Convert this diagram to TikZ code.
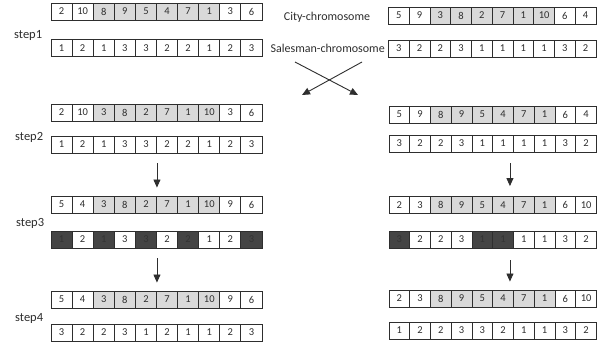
\documentclass[tikz,border=0pt]{standalone}
\usepackage{fontspec}
\setmainfont{Carlito}
\usetikzlibrary{arrows.meta}
\definecolor{inkgray}{HTML}{2E2E2E}
\definecolor{lightcell}{HTML}{D9D9D9}
\definecolor{darkcell}{HTML}{444444}
\tikzset{
  cell/.style={draw=inkgray, line width=0.9pt, inner sep=0pt, minimum height=17pt,
    text=inkgray, font=\fontsize{10.5}{10.5}\selectfont},
  cw/.style={fill=white},
  cg/.style={fill=lightcell},
  cd/.style={fill=darkcell, text=black!80},
  steplabel/.style={anchor=base west, inner sep=0pt, text=inkgray,
    font=\fontsize{12.5}{13}\selectfont},
  chromlabel/.style={inner sep=0pt, text=inkgray, font=\fontsize{12}{12}\selectfont},
  flow/.style={draw=inkgray, line width=0.9pt, -{Triangle[width=7pt,length=8pt]}},
}
% #1 row name, #2 left x, #3 cell width, #4 top y, #5 value/style list
\newcommand\chromrow[5]{%
  \foreach [count=\i] \v/\s in {#5} {
    \node[cell,\s,minimum width=#3pt] (#1-\i) at ({#2+(\i-0.5)*#3},{#4+8.5}) {\v};
  }}
\begin{document}
\begin{tikzpicture}[x=1pt,y=-1pt]
\useasboundingbox (0,0) rectangle (603,347);
\fill[white] (0,0) rectangle (603,347);

% step 1
\chromrow{L1c}{51}{21.1}{3}{2/cw,10/cw,8/cg,9/cg,5/cg,4/cg,7/cg,1/cg,3/cw,6/cw}
\chromrow{L1s}{51}{21.1}{39.5}{1/cw,2/cw,1/cw,3/cw,3/cw,2/cw,2/cw,1/cw,2/cw,3/cw}
\chromrow{R1c}{388.5}{20.75}{7}{5/cw,9/cw,3/cg,8/cg,2/cg,7/cg,1/cg,10/cg,6/cw,4/cw}
\chromrow{R1s}{388.5}{20.75}{40}{3/cw,2/cw,2/cw,3/cw,1/cw,1/cw,1/cw,1/cw,3/cw,2/cw}

% step 2
\chromrow{L2c}{51}{21.1}{104}{2/cw,10/cw,3/cg,8/cg,2/cg,7/cg,1/cg,10/cg,3/cw,6/cw}
\chromrow{L2s}{51}{21.1}{136}{1/cw,2/cw,1/cw,3/cw,3/cw,2/cw,2/cw,1/cw,2/cw,3/cw}
\chromrow{R2c}{389}{20.75}{106}{5/cw,9/cw,8/cg,9/cg,5/cg,4/cg,7/cg,1/cg,6/cw,4/cw}
\chromrow{R2s}{389}{20.75}{135}{3/cw,2/cw,2/cw,3/cw,1/cw,1/cw,1/cw,1/cw,3/cw,2/cw}

% step 3
\chromrow{L3c}{51}{21.1}{196}{5/cw,4/cw,3/cg,8/cg,2/cg,7/cg,1/cg,10/cg,9/cw,6/cw}
\chromrow{L3s}{51}{21.1}{231}{1/cd,2/cw,1/cd,3/cw,3/cd,2/cw,2/cd,1/cw,2/cw,3/cd}
\chromrow{R3c}{389}{20.75}{196.5}{2/cw,3/cw,8/cg,9/cg,5/cg,4/cg,7/cg,1/cg,6/cw,10/cw}
\chromrow{R3s}{389}{20.75}{231}{3/cd,2/cw,2/cw,3/cw,1/cd,1/cd,1/cw,1/cw,3/cw,2/cw}

% step 4
\chromrow{L4c}{51}{21.1}{291}{5/cw,4/cw,3/cg,8/cg,2/cg,7/cg,1/cg,10/cg,9/cw,6/cw}
\chromrow{L4s}{51}{21.1}{324}{3/cw,2/cw,2/cw,3/cw,1/cw,2/cw,1/cw,1/cw,2/cw,3/cw}
\chromrow{R4c}{389}{20.75}{290}{2/cw,3/cw,8/cg,9/cg,5/cg,4/cg,7/cg,1/cg,6/cw,10/cw}
\chromrow{R4s}{389}{20.75}{322}{1/cw,2/cw,2/cw,3/cw,3/cw,2/cw,1/cw,1/cw,3/cw,2/cw}

% labels
\node[steplabel] (s1) at (14,39) {step1};
\node[steplabel] (s2) at (15,141) {step2};
\node[steplabel] (s3) at (16,227) {step3};
\node[steplabel] (s4) at (15,322) {step4};
\node[chromlabel, anchor=base] (city) at (327,21) {City-chromosome};
\node[chromlabel, anchor=base east] (sales) at (385,53) {Salesman-chromosome};

% crossover
\coordinate (xa) at (295,62);
\coordinate (xb) at (362,62);
\coordinate (xc) at (302,95);
\coordinate (xd) at (358,95);
\draw[flow] (xa) -- (xd);
\draw[flow] (xb) -- (xc);

% mutation and repair arrows
\draw[flow] ([yshift=-10pt]L2s-5.south east) -- ([yshift=8pt]L3c-5.north east);
\draw[flow] ([xshift=-4pt,yshift=-11pt]R2s-6.south east) -- ([xshift=-4pt,yshift=10pt]R3c-6.north east);
\draw[flow] ([yshift=-10pt]L3s-5.south east) -- ([yshift=8pt]L4c-5.north east);
\draw[flow] ([xshift=-4pt,yshift=-12pt]R3s-6.south east) -- ([xshift=-4pt,yshift=8pt]R4c-6.north east);
\end{tikzpicture}
\end{document}
